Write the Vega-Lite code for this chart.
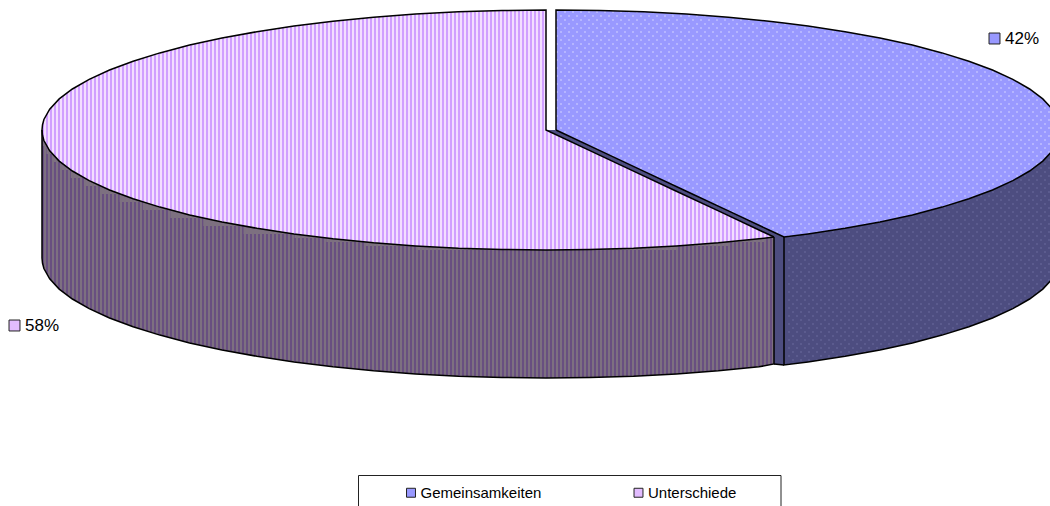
{"$schema":"https://vega.github.io/schema/vega-lite/v6.json","width":1050,"height":506,"padding":0,"autosize":{"type":"none"},"background":"white","view":{"stroke":null},
"config":{"view":{"stroke":null}},
"datasets":{
"pink":[{"x":42,"y":130,"y2":130},{"x":42.5,"y":124.8,"y2":135.2},{"x":43.9,"y":119.5,"y2":140.5},{"x":49.7,"y":109.2,"y2":150.8},{"x":59.2,"y":98.9,"y2":161.1},{"x":72.4,"y":89,"y2":171},{"x":89.2,"y":79.3,"y2":180.7},{"x":109.5,"y":70,"y2":190},{"x":133.1,"y":61.2,"y2":198.8},{"x":159.9,"y":52.9,"y2":207.1},{"x":189.6,"y":45.1,"y2":214.9},{"x":222,"y":38.1,"y2":221.9},{"x":256.9,"y":31.7,"y2":228.3},{"x":294,"y":26.1,"y2":233.9},{"x":333,"y":21.2,"y2":238.8},{"x":373.6,"y":17.2,"y2":242.8},{"x":415.6,"y":14.1,"y2":245.9},{"x":458.5,"y":11.8,"y2":248.2},{"x":502.1,"y":10.5,"y2":249.5},{"x":546,"y":10,"y2":250},{"x":546,"y":130,"y2":250},{"x":589.9,"y":150.6,"y2":249.5},{"x":633.5,"y":171.1,"y2":248.2},{"x":676.4,"y":191.2,"y2":245.9},{"x":718.4,"y":210.9,"y2":242.8},{"x":759,"y":230,"y2":238.8},{"x":774,"y":237,"y2":237}],
"blue":[{"x":556,"y":130,"y2":130},{"x":556,"y":10,"y2":130},{"x":599.9,"y":10.5,"y2":150.6},{"x":643.5,"y":11.8,"y2":171.1},{"x":686.4,"y":14.1,"y2":191.2},{"x":728.4,"y":17.2,"y2":210.9},{"x":769,"y":21.2,"y2":230},{"x":784,"y":23,"y2":237},{"x":808,"y":26.1,"y2":233.9},{"x":845.1,"y":31.7,"y2":228.3},{"x":880,"y":38.1,"y2":221.9},{"x":912.4,"y":45.1,"y2":214.9},{"x":942.1,"y":52.9,"y2":207.1},{"x":968.9,"y":61.2,"y2":198.8},{"x":992.5,"y":70,"y2":190},{"x":1012.8,"y":79.3,"y2":180.7},{"x":1029.6,"y":89,"y2":171},{"x":1042.8,"y":98.9,"y2":161.1},{"x":1052.3,"y":109.2,"y2":150.8},{"x":1058.1,"y":119.5,"y2":140.5},{"x":1060,"y":130,"y2":130}],
"pinkWall":[{"x":42,"y":130,"y2":130},{"x":42,"y":130,"y2":258},{"x":42.5,"y":135.2,"y2":263.2},{"x":43.9,"y":140.5,"y2":268.5},{"x":49.7,"y":150.8,"y2":278.8},{"x":59.2,"y":161.1,"y2":289.1},{"x":72.4,"y":171,"y2":299},{"x":89.2,"y":180.7,"y2":308.7},{"x":109.5,"y":190,"y2":318},{"x":133.1,"y":198.8,"y2":326.8},{"x":159.9,"y":207.1,"y2":335.1},{"x":189.6,"y":214.9,"y2":342.9},{"x":222,"y":221.9,"y2":349.9},{"x":256.9,"y":228.3,"y2":356.3},{"x":294,"y":233.9,"y2":361.9},{"x":333,"y":238.8,"y2":366.8},{"x":373.6,"y":242.8,"y2":370.8},{"x":415.6,"y":245.9,"y2":373.9},{"x":458.5,"y":248.2,"y2":376.2},{"x":502.1,"y":249.5,"y2":377.5},{"x":546,"y":250,"y2":378},{"x":589.9,"y":249.5,"y2":377.5},{"x":633.5,"y":248.2,"y2":376.2},{"x":676.4,"y":245.9,"y2":373.9},{"x":718.4,"y":242.8,"y2":370.8},{"x":759,"y":238.8,"y2":366.8},{"x":774,"y":237,"y2":364},{"x":774,"y":237,"y2":237}],
"blueWall":[{"x":784,"y":237,"y2":237},{"x":784,"y":237,"y2":365},{"x":808,"y":233.9,"y2":361.9},{"x":845.1,"y":228.3,"y2":356.3},{"x":880,"y":221.9,"y2":349.9},{"x":912.4,"y":214.9,"y2":342.9},{"x":942.1,"y":207.1,"y2":335.1},{"x":968.9,"y":198.8,"y2":326.8},{"x":992.5,"y":190,"y2":318},{"x":1012.8,"y":180.7,"y2":308.7},{"x":1029.6,"y":171,"y2":299},{"x":1042.8,"y":161.1,"y2":289.1},{"x":1052.3,"y":150.8,"y2":278.8},{"x":1058.1,"y":140.5,"y2":268.5},{"x":1060,"y":130,"y2":258}],
"notch":[{"x":546,"y":0,"y2":130},{"x":556,"y":0,"y2":134.7}],
"cutTop":[{"x":546,"y":130,"y2":130},{"x":556,"y":130,"y2":134.7},{"x":774,"y":232.3,"y2":237},{"x":784,"y":237,"y2":237}],
"cutSide":[{"x":774,"y":237,"y2":364},{"x":784,"y":237,"y2":365}],
"topBand":[{"x":42,"x2":774,"y":130}],
"wallBand":[{"x":42,"x2":774,"y":314}],
"wallRows":[{"x":42,"x2":43.1,"y":142},{"x":42,"x2":46.5,"y":150},{"x":42,"x2":52.2,"y":158},{"x":42,"x2":60.3,"y":166},{"x":42,"x2":70.8,"y":174},{"x":42,"x2":84.1,"y":182},{"x":42,"x2":100.2,"y":190},{"x":42,"x2":119.7,"y":198},{"x":42,"x2":142.8,"y":206},{"x":42,"x2":170.3,"y":214},{"x":42,"x2":203.3,"y":222},{"x":42,"x2":243.6,"y":230}],
"wallRowsFine":[{"x":42,"x2":294.6,"y":236},{"x":42,"x2":326.3,"y":240},{"x":42,"x2":365.1,"y":244},{"x":42,"x2":417,"y":248},{"x":766,"x2":774,"y":240},{"x":730,"x2":774,"y":244},{"x":678,"x2":774,"y":248}],
"topDots":[{"x":556,"y":12},{"x":560,"y":16},{"x":556,"y":20},{"x":560,"y":24},{"x":556,"y":28},{"x":560,"y":32},{"x":556,"y":36},{"x":560,"y":40},{"x":556,"y":44},{"x":560,"y":48},{"x":556,"y":52},{"x":560,"y":56},{"x":556,"y":60},{"x":560,"y":64},{"x":556,"y":68},{"x":560,"y":72},{"x":556,"y":76},{"x":560,"y":80},{"x":556,"y":84},{"x":560,"y":88},{"x":556,"y":92},{"x":560,"y":96},{"x":556,"y":100},{"x":560,"y":104},{"x":556,"y":108},{"x":560,"y":112},{"x":556,"y":116},{"x":560,"y":120},{"x":556,"y":124},{"x":560,"y":128},{"x":564,"y":132},{"x":576,"y":136},{"x":580,"y":140},{"x":592,"y":144},{"x":596,"y":148},{"x":608,"y":152},{"x":612,"y":156},{"x":624,"y":160},{"x":636,"y":164},{"x":640,"y":168},{"x":652,"y":172},{"x":656,"y":176},{"x":668,"y":180},{"x":672,"y":184},{"x":684,"y":188},{"x":696,"y":192},{"x":700,"y":196},{"x":712,"y":200},{"x":716,"y":204},{"x":728,"y":208},{"x":732,"y":212},{"x":744,"y":216},{"x":748,"y":220},{"x":760,"y":224},{"x":772,"y":228},{"x":776,"y":232},{"x":788,"y":236}],
"wallDots":[{"x":1048,"y":160},{"x":1044,"y":164},{"x":1040,"y":168},{"x":1036,"y":172},{"x":1024,"y":176},{"x":1020,"y":180},{"x":1008,"y":184},{"x":1004,"y":188},{"x":992,"y":192},{"x":980,"y":196},{"x":968,"y":200},{"x":956,"y":204},{"x":944,"y":208},{"x":932,"y":212},{"x":912,"y":216},{"x":892,"y":220},{"x":872,"y":224},{"x":852,"y":228},{"x":824,"y":232},{"x":796,"y":236},{"x":792,"y":240},{"x":788,"y":244},{"x":792,"y":248},{"x":788,"y":252},{"x":792,"y":256},{"x":788,"y":260},{"x":792,"y":264},{"x":788,"y":268},{"x":792,"y":272},{"x":788,"y":276},{"x":792,"y":280},{"x":788,"y":284},{"x":792,"y":288},{"x":788,"y":292},{"x":792,"y":296},{"x":788,"y":300},{"x":792,"y":304},{"x":788,"y":308},{"x":792,"y":312},{"x":788,"y":316},{"x":792,"y":320},{"x":788,"y":324},{"x":792,"y":328},{"x":788,"y":332},{"x":792,"y":336},{"x":788,"y":340},{"x":792,"y":344},{"x":788,"y":348},{"x":792,"y":352},{"x":788,"y":356},{"x":792,"y":360},{"x":788,"y":364}],
"legendBox":[{"x":358.5,"x2":781,"y":475.5,"y2":530}],
"shares":[{"category":"Gemeinsamkeiten","label":"42%","x":994.5,"y":38.5,"tx":1005},{"category":"Unterschiede","label":"58%","x":14.5,"y":325.5,"tx":25}]
},
"encoding":{
"x":{"field":"x","type":"quantitative","scale":{"domain":[0,1050],"range":[0,1050]},"axis":null},
"y":{"field":"y","type":"quantitative","scale":{"domain":[0,506],"range":[0,506]},"axis":null}
},
"layer":[
{"data":{"name":"pink"},"mark":{"type":"area","fill":"#f3deff","clip":true},"encoding":{"y2":{"field":"y2"},"order":null}},
{"data":{"name":"topBand"},"mark":{"type":"rule","stroke":"#d09fff","strokeWidth":240,"strokeDash":[2,2]},"encoding":{"x2":{"field":"x2"}}},
{"data":{"name":"pink"},"transform":[{"filter":"datum.x<546||datum.y==10"}],"mark":{"type":"area","fill":"white"},"encoding":{"y":{"datum":0,"type":"quantitative"},"y2":{"field":"y"},"order":null}},
{"data":{"name":"notch"},"mark":{"type":"area","fill":"white"},"encoding":{"y2":{"field":"y2"},"order":null}},
{"data":{"name":"blue"},"mark":{"type":"area","fill":"#9999ff","clip":true},"encoding":{"y2":{"field":"y2"},"order":null}},
{"data":{"name":"topDots"},"transform":[{"calculate":"1050","as":"x2"}],"mark":{"type":"rule","stroke":"#b5b5ff","strokeWidth":2,"strokeDash":[2,6]},"encoding":{"x2":{"field":"x2"}}},
{"data":{"name":"blue"},"transform":[{"filter":"datum.x>556||datum.y==10"}],"mark":{"type":"area","fill":"white","clip":true},"encoding":{"y":{"datum":0,"type":"quantitative"},"y2":{"field":"y"},"order":null}},
{"data":{"name":"pinkWall"},"mark":{"type":"area","fill":"#7d7080"},"encoding":{"y2":{"field":"y2"},"order":null}},
{"data":{"name":"blueWall"},"mark":{"type":"area","fill":"#4d4d80","clip":true},"encoding":{"y2":{"field":"y2"},"order":null}},
{"data":{"name":"cutTop"},"mark":{"type":"area","fill":"#4d4d80"},"encoding":{"y2":{"field":"y2"},"order":null}},
{"data":{"name":"cutSide"},"mark":{"type":"area","fill":"#4d4d80"},"encoding":{"y2":{"field":"y2"},"order":null}},
{"data":{"name":"wallBand"},"mark":{"type":"rule","stroke":"#684f80","strokeWidth":128,"strokeDash":[2,2]},"encoding":{"x2":{"field":"x2"}}},
{"data":{"name":"wallRows"},"mark":{"type":"rule","stroke":"#684f80","strokeWidth":8,"strokeDash":[2,2]},"encoding":{"x2":{"field":"x2"}}},
{"data":{"name":"wallRowsFine"},"mark":{"type":"rule","stroke":"#684f80","strokeWidth":4,"strokeDash":[2,2]},"encoding":{"x2":{"field":"x2"}}},
{"data":{"name":"wallDots"},"transform":[{"calculate":"1050","as":"x2"}],"mark":{"type":"rule","stroke":"#5b5b8e","strokeWidth":2,"strokeDash":[2,6]},"encoding":{"x2":{"field":"x2"}}},
{"data":{"name":"pinkWall"},"transform":[{"filter":"datum.y2>datum.y"}],"mark":{"type":"area","fill":"white"},"encoding":{"y":{"field":"y2"},"y2":{"datum":392},"order":null}},
{"data":{"name":"blueWall"},"transform":[{"filter":"datum.y2>datum.y"}],"mark":{"type":"area","fill":"white","clip":true},"encoding":{"y":{"field":"y2"},"y2":{"datum":392},"order":null}},
{"data":{"name":"pink"},"mark":{"type":"line","stroke":"black","strokeWidth":1.5},"encoding":{"order":null}},
{"data":{"name":"pink"},"mark":{"type":"line","stroke":"black","strokeWidth":1.5},"encoding":{"y":{"field":"y2","type":"quantitative"},"order":null}},
{"data":{"name":"blue"},"mark":{"type":"line","stroke":"black","strokeWidth":1.5,"clip":true},"encoding":{"order":null}},
{"data":{"name":"blue"},"mark":{"type":"line","stroke":"black","strokeWidth":1.5,"clip":true},"encoding":{"y":{"field":"y2","type":"quantitative"},"order":null}},
{"data":{"name":"pinkWall"},"mark":{"type":"line","stroke":"black","strokeWidth":1.5},"encoding":{"y":{"field":"y2","type":"quantitative"},"order":null}},
{"data":{"name":"blueWall"},"mark":{"type":"line","stroke":"black","strokeWidth":1.5,"clip":true},"encoding":{"y":{"field":"y2","type":"quantitative"},"order":null}},
{"data":{"name":"cutSide"},"mark":{"type":"line","stroke":"black","strokeWidth":1.5},"encoding":{"y":{"field":"y2","type":"quantitative"},"order":null}},
{"data":{"name":"legendBox"},"mark":{"type":"rect","fill":"white","stroke":"#222","strokeWidth":1,"clip":true},"encoding":{"x2":{"field":"x2"},"y2":{"field":"y2"}}},
{"data":{"name":"shares"},"mark":{"type":"point","shape":"square","filled":true,"size":120,"stroke":"#222","strokeWidth":1,"opacity":1},"encoding":{"color":{"field":"category","type":"nominal","scale":{"domain":["Gemeinsamkeiten","Unterschiede"],"range":["#9999ff","#e2bcff"]},"legend":{"title":null,"orient":"none","legendX":403.5,"legendY":485,"columns":2,"columnPadding":89.5,"symbolType":"square","symbolSize":80,"symbolStrokeColor":"#222","symbolStrokeWidth":1,"symbolOpacity":1,"labelFont":"Liberation Sans","labelFontSize":15,"labelColor":"black","labelOffset":2,"padding":0}}}},
{"data":{"name":"shares"},"mark":{"type":"text","font":"Liberation Sans","fontSize":17,"align":"left","baseline":"middle","color":"black"},"encoding":{"x":{"field":"tx","type":"quantitative"},"text":{"field":"label"}}}
]}
